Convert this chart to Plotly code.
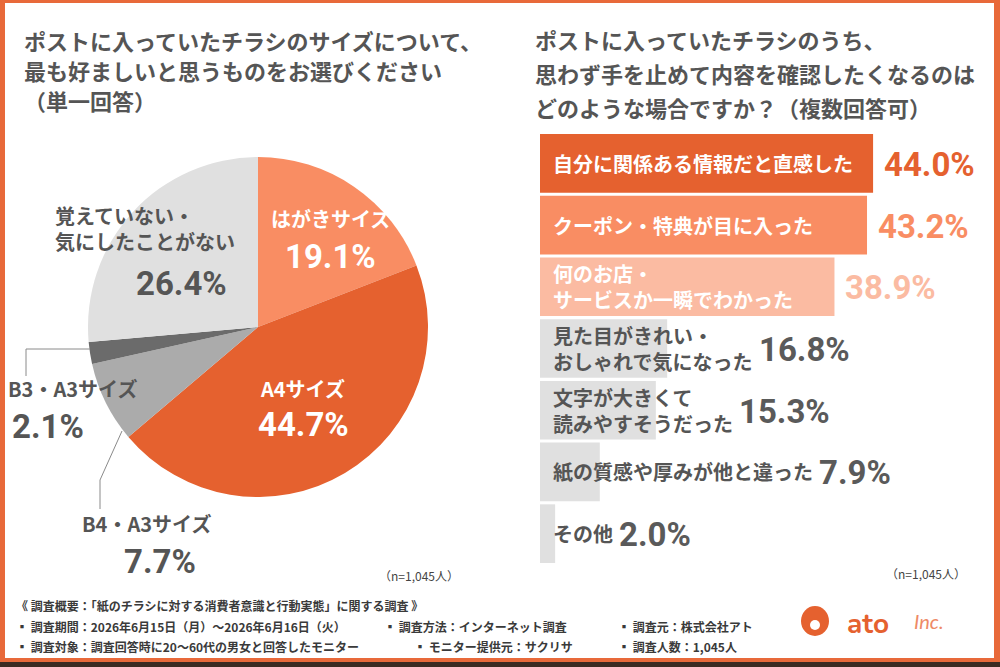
import plotly.graph_objects as go

W, H = 1000, 667

# 左: チラシのサイズ (単一回答)
size_labels = ["はがきサイズ", "A4サイズ", "B4・A3サイズ", "B3・A3サイズ", "覚えていない・<br>気にしたことがない"]
size_values = [19.1, 44.7, 7.7, 2.1, 26.4]
size_colors = ["#F98D63", "#E5612F", "#ABABAB", "#6B6B6B", "#E0E0E0"]

# 右: 手を止めて確認したくなる場合 (複数回答可)
reason_labels = [
    "自分に関係ある情報だと直感した",
    "クーポン・特典が目に入った",
    "何のお店・<br>サービスか一瞬でわかった",
    "見た目がきれい・<br>おしゃれで気になった",
    "文字が大きくて<br>読みやすそうだった",
    "紙の質感や厚みが他と違った",
    "その他",
]
reason_values = [44.0, 43.2, 38.9, 16.8, 15.3, 7.9, 2.0]
reason_colors = ["#E5612F", "#F98D63", "#FBBBA2", "#E0E0E0", "#E0E0E0", "#E0E0E0", "#E0E0E0"]
reason_text_colors = ["white", "white", "white", "#555555", "#555555", "#555555", "#555555"]
reason_pct_colors = ["#E5612F", "#F98D63", "#FBBBA2", "#5A5A5A", "#5A5A5A", "#5A5A5A", "#5A5A5A"]

left_title = ["ポストに入っていたチラシのサイズについて、", "最も好ましいと思うものをお選びください", "（単一回答）"]
right_title = ["ポストに入っていたチラシのうち、", "思わず手を止めて内容を確認したくなるのは", "どのような場合ですか？（複数回答可）"]

JP = "Noto Sans CJK JP"
NUM = "Roboto"
GRAY = "#555555"


def px(x):
    return x / W


def py(y):
    return 1 - y / H


fig = go.Figure()

fig.add_trace(go.Pie(
    labels=size_labels,
    values=size_values,
    marker=dict(colors=size_colors, line=dict(width=0)),
    sort=False,
    direction="clockwise",
    rotation=0,
    textinfo="none",
    hoverinfo="label+percent",
    domain=dict(x=[px(88), px(428)], y=[py(497), py(157)]),
    showlegend=False,
))

fig.add_trace(go.Bar(
    x=reason_values,
    y=reason_labels,
    orientation="h",
    marker=dict(color=reason_colors, line=dict(width=0)),
    showlegend=False,
    hoverinfo="x",
))

ann = []


def txt(x, y, s, size, color, font=JP, anchor="center", **kw):
    ann.append(dict(x=px(x), y=py(y), xref="paper", yref="paper", text=s,
                    showarrow=False, xanchor=anchor, yanchor="middle",
                    font=dict(family=font, size=size, color=color), **kw))


def pct(v):
    return f"{v:.1f}%"


# --- pie labels ---
txt(330, 218, "<b>" + size_labels[0] + "</b>", 20, "white")
txt(330, 256, "<b>" + pct(size_values[0]) + "</b>", 33, "white", NUM)
txt(302, 388, "<b>" + size_labels[1] + "</b>", 20, "white")
txt(303, 425, "<b>" + pct(size_values[1]) + "</b>", 33, "white", NUM)
txt(53, 228, "<b>" + size_labels[4] + "</b>", 20, GRAY, anchor="left", align="left")
txt(181, 283, "<b>" + pct(size_values[4]) + "</b>", 33, GRAY, NUM)
txt(6, 388, "<b>" + size_labels[3] + "</b>", 20, GRAY, anchor="left")
txt(48, 426, "<b>" + pct(size_values[3]) + "</b>", 33, GRAY, NUM)
txt(146, 523, "<b>" + size_labels[2] + "</b>", 20, GRAY)
txt(160, 561, "<b>" + pct(size_values[2]) + "</b>", 33, GRAY, NUM)

# titles
for i, line in enumerate(left_title):
    txt(22, 40 + 30 * i, "<b>" + line + "</b>", 22, GRAY, anchor="left")
for i, line in enumerate(right_title):
    txt(533, 39 + 34 * i, "<b>" + line + "</b>", 22, GRAY, anchor="left")

txt(461, 575, "（n=1,045人）", 12, "#444444", anchor="right")
txt(968, 573, "（n=1,045人）", 12, "#444444", anchor="right")

# --- bar labels ---
PX_PER_UNIT = 7.57
CHAR_PX = 20
for lab, v, tc, pc in zip(reason_labels, reason_values, reason_text_colors, reason_pct_colors):
    lines = lab.split("<br>")
    ann.append(dict(x=0, y=lab, xref="x", yref="y", text="<b>" + lab + "</b>",
                    showarrow=False, xanchor="left", yanchor="middle", xshift=11,
                    align="left", font=dict(family=JP, size=20, color=tc)))
    text_end = (11 + max(len(s) for s in lines) * CHAR_PX) / PX_PER_UNIT
    ann.append(dict(x=max(v, text_end), y=lab, xref="x", yref="y",
                    text="<b>" + pct(v) + "</b>", showarrow=False,
                    xanchor="left", yanchor="middle", xshift=6 if text_end > v else 9, yshift=-1,
                    font=dict(family=NUM, size=33, color=pc)))

# footer
FOOT = "#3A3A3A"
txt(14, 605, "<b>《 調査概要：「紙のチラシに対する消費者意識と行動実態」に関する調査 》</b>", 12, FOOT, anchor="left")
txt(14, 626, "<b>▪ 調査期間：2026年6月15日（月）～2026年6月16日（火）</b>", 12, FOOT, anchor="left")
txt(382, 626, "<b>▪ 調査方法：インターネット調査</b>", 12, FOOT, anchor="left")
txt(616, 626, "<b>▪ 調査元：株式会社アト</b>", 12, FOOT, anchor="left")
txt(14, 646, "<b>▪ 調査対象：調査回答時に20～60代の男女と回答したモニター</b>", 12, FOOT, anchor="left")
txt(412, 646, "<b>▪ モニター提供元：サクリサ</b>", 12, FOOT, anchor="left")
txt(616, 646, "<b>▪ 調査人数：1,045人</b>", 12, FOOT, anchor="left")

# logo
txt(845, 624, "<b>ato</b>", 28, "#E5612F", font="Nunito, Lato, Noto Sans", anchor="left")
txt(912, 621, "<i>Inc.</i>", 20, "#EE8A66", font="Lato", anchor="left")

ORANGE = "#E8693A"
LEAD = dict(color="#8A8A8A", width=1)
shapes = [
    # leader lines
    dict(type="line", xref="paper", yref="paper", x0=px(90), y0=py(349), x1=px(26), y1=py(349), line=LEAD),
    dict(type="line", xref="paper", yref="paper", x0=px(26), y0=py(349), x1=px(26), y1=py(376), line=LEAD),
    dict(type="line", xref="paper", yref="paper", x0=px(122), y0=py(431), x1=px(100), y1=py(480), line=LEAD),
    dict(type="line", xref="paper", yref="paper", x0=px(100), y0=py(480), x1=px(100), y1=py(509), line=LEAD),
    # logo mark
    dict(type="circle", xref="paper", yref="paper", x0=px(801), y0=py(606), x1=px(829), y1=py(636), fillcolor="#E5612F", line=dict(width=0)),
    dict(type="circle", xref="paper", yref="paper", x0=px(810), y0=py(620), x1=px(820), y1=py(630), fillcolor="white", line=dict(width=0)),
    # frame
    dict(type="rect", xref="paper", yref="paper", x0=0, y0=py(3), x1=1, y1=1, fillcolor=ORANGE, line=dict(width=0)),
    dict(type="rect", xref="paper", yref="paper", x0=0, y0=0, x1=px(5), y1=1, fillcolor=ORANGE, line=dict(width=0)),
    dict(type="rect", xref="paper", yref="paper", x0=px(994), y0=0, x1=1, y1=1, fillcolor=ORANGE, line=dict(width=0)),
    dict(type="rect", xref="paper", yref="paper", x0=0, y0=py(662), x1=1, y1=py(658), fillcolor=ORANGE, line=dict(width=0)),
    dict(type="rect", xref="paper", yref="paper", x0=0, y0=0, x1=1, y1=py(662), fillcolor="#3B2A22", line=dict(width=0)),
]

fig.update_layout(
    width=W, height=H,
    margin=dict(l=0, r=0, t=0, b=0),
    paper_bgcolor="white", plot_bgcolor="white",
    bargap=0.05,
    xaxis=dict(domain=[0.54, 0.995], range=[0, 455 / PX_PER_UNIT], visible=False, fixedrange=True),
    yaxis=dict(domain=[py(564.5), py(132.5)], categoryorder="array", categoryarray=reason_labels,
               range=[6.5, -0.5], visible=False, fixedrange=True),
    annotations=ann,
    shapes=shapes,
    font=dict(family=JP),
)

fig.write_html("out.html", config={"displayModeBar": False},
               post_script="document.body.style.margin='0';document.body.style.overflow='hidden';")
